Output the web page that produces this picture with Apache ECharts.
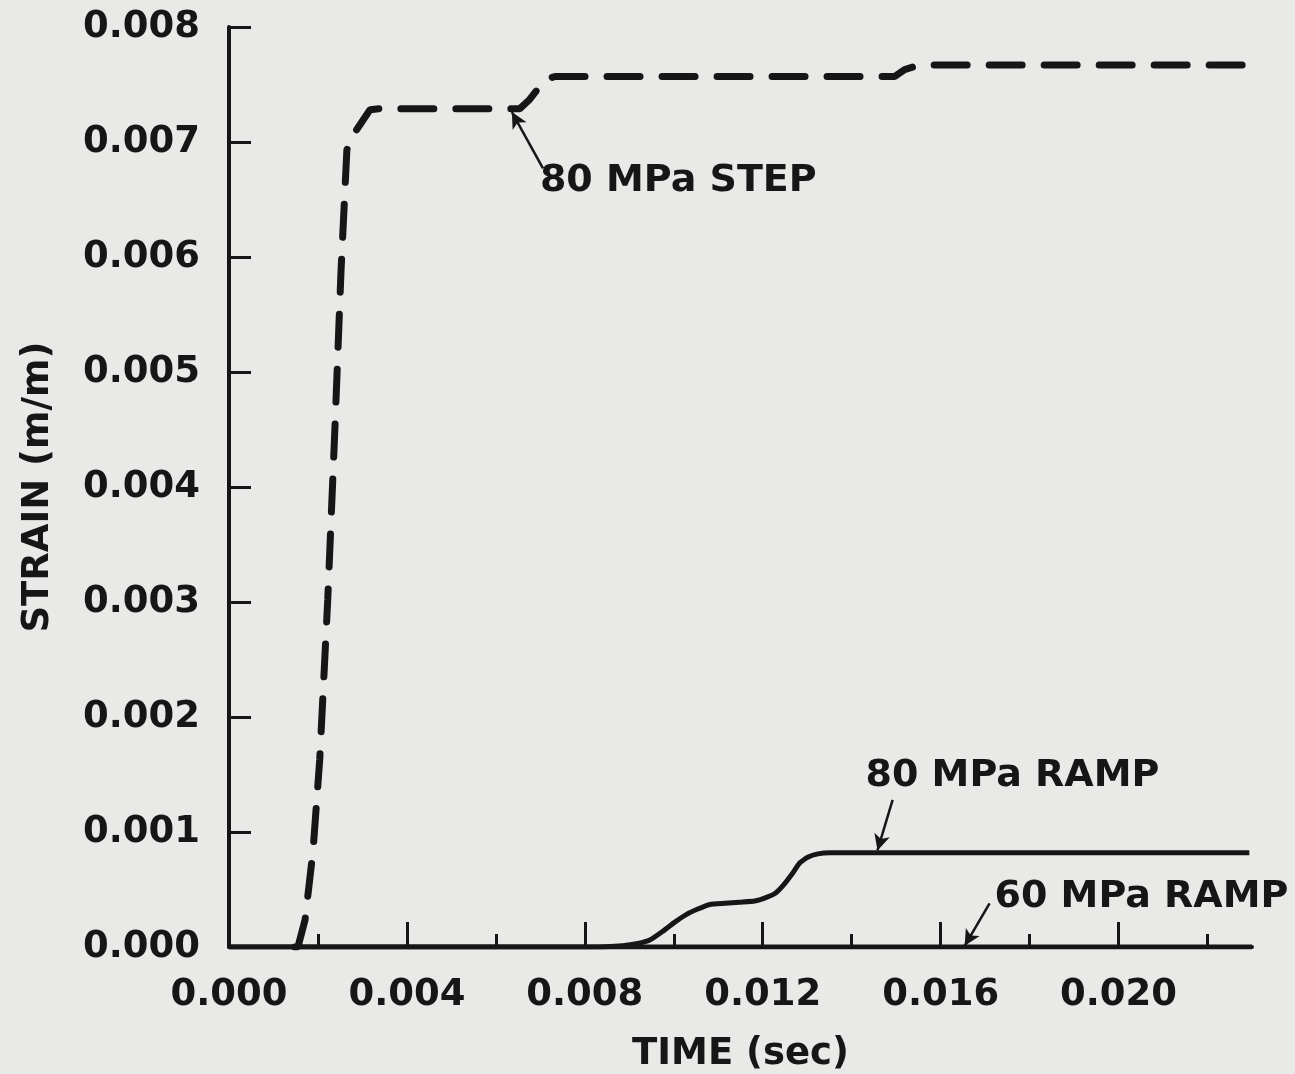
<!DOCTYPE html>
<html>
<head>
<meta charset="utf-8">
<script src="https://cdn.jsdelivr.net/npm/echarts@6/dist/echarts.min.js"></script>
<style>
  html, body { margin: 0; padding: 0; background: #e9e9e7; }
  #chart { width: 1295px; height: 1074px; }
</style>
</head>
<body>
<div id="chart"></div>
<script>
// time (sec) / strain (m/m)
const stepTime = [0.00148, 0.00155, 0.00171, 0.00189, 0.00204, 0.00222, 0.00238, 0.00252, 0.00265, 0.00272, 0.00317, 0.00339, 0.00654, 0.00676, 0.0071, 0.00733, 0.01497, 0.01519, 0.01553, 0.02283]
const stepStrain = [0, 0, 0.000235, 0.00084, 0.00163, 0.00302, 0.0045, 0.00589, 0.00693, 0.00702, 0.00728, 0.00729, 0.00729, 0.00737, 0.00754, 0.00757, 0.00757, 0.00763, 0.00767, 0.00767]

const ramp80Time = [0, 0.00834, 0.00885, 0.00919, 0.00946, 0.00973, 0.01, 0.01027, 0.01054, 0.01081, 0.01115, 0.01148, 0.01182, 0.01207, 0.01229, 0.01247, 0.01265, 0.01283, 0.01301, 0.01324, 0.01351, 0.02294]
const ramp80Strain = [0, 0, 0.00001, 0.00003, 0.00006, 0.00013, 0.00021, 0.00028, 0.00033, 0.00037, 0.00038, 0.00039, 0.0004, 0.00043, 0.00047, 0.00054, 0.00063, 0.00073, 0.00078, 0.00081, 0.00082, 0.00082]

const ramp60Time = [0, 0.023]
const ramp60Strain = [0, 0]

// axis ticks
const xMajorTicks = [0.004, 0.008, 0.012, 0.016, 0.020]
const xMinorTicks = [0.002, 0.006, 0.010, 0.014, 0.018, 0.022]
const xLabels = [0, 0.004, 0.008, 0.012, 0.016, 0.020]

// callouts, in data units
const callouts = [
  { text: '80 MPa STEP', at: [0.00699, 0.00666] },
  { text: '80 MPa RAMP', at: [0.01431, 0.00149] },
  { text: '60 MPa RAMP', at: [0.01721, 0.00043] }
]
const arrows = [
  [[0.00706, 0.00677], [0.00636, 0.00726]],
  [[0.01492, 0.00128], [0.01458, 0.00084]],
  [[0.0171, 0.00038], [0.01654, 0.00001]]
]

const ink = '#161616'
const font = '"DejaVu Sans", sans-serif'
const pairs = (xs, ys) => xs.map((x, i) => [x, ys[i]])

const chart = echarts.init(document.getElementById('chart'))

chart.setOption({
  backgroundColor: '#e9e9e7',
  animation: false,
  grid: { left: 229, right: 43, top: 27, bottom: 127, containLabel: false, outerBoundsMode: 'none' },
  xAxis: [{
    type: 'value',
    min: 0,
    max: 0.023,
    interval: 0.002,
    name: 'TIME (sec)',
    nameLocation: 'middle',
    nameGap: 89,
    nameTextStyle: { color: ink, fontFamily: font, fontWeight: 'bold', fontSize: 37 },
    splitLine: { show: false },
    axisLine: { show: true, lineStyle: { color: ink, width: 4 } },
    axisTick: { show: true, inside: true, length: 13, customValues: xMinorTicks, lineStyle: { color: ink, width: 3 } },
    axisLabel: {
      customValues: xLabels,
      margin: 30,
      color: ink,
      fontFamily: font,
      fontWeight: 'bold',
      fontSize: 37,
      formatter: v => v.toFixed(3)
    }
  }, {
    type: 'value',
    min: 0,
    max: 0.023,
    interval: 0.002,
    position: 'bottom',
    splitLine: { show: false },
    axisLine: { show: false },
    axisLabel: { show: false },
    axisTick: { show: true, inside: true, length: 25, customValues: xMajorTicks, lineStyle: { color: ink, width: 3 } }
  }],
  yAxis: {
    type: 'value',
    min: 0,
    max: 0.008,
    interval: 0.001,
    name: 'STRAIN (m/m)',
    nameLocation: 'middle',
    nameGap: 172,
    nameTextStyle: { color: ink, fontFamily: font, fontWeight: 'bold', fontSize: 37 },
    splitLine: { show: false },
    axisLine: { show: true, lineStyle: { color: ink, width: 4 } },
    axisTick: { show: true, inside: true, length: 22, lineStyle: { color: ink, width: 3 } },
    axisLabel: {
      margin: 29,
      color: ink,
      fontFamily: font,
      fontWeight: 'bold',
      fontSize: 37,
      formatter: v => v.toFixed(3)
    }
  },
  series: [
    {
      name: '80 MPa STEP',
      type: 'line',
      data: pairs(stepTime, stepStrain),
      showSymbol: false,
      lineStyle: { color: ink, width: 7, type: [33, 22], cap: 'round' }
    },
    {
      name: '80 MPa RAMP',
      type: 'line',
      data: pairs(ramp80Time, ramp80Strain),
      showSymbol: false,
      smooth: 0.15,
      lineStyle: { color: ink, width: 5, join: 'round' }
    },
    {
      name: '60 MPa RAMP',
      type: 'line',
      data: pairs(ramp60Time, ramp60Strain),
      showSymbol: false,
      lineStyle: { color: ink, width: 5 },
      markLine: {
        silent: true,
        symbol: ['none', 'arrow'],
        symbolSize: [12, 16],
        label: { show: false },
        lineStyle: { color: ink, width: 2.5, type: 'solid' },
        data: arrows.map(a => [{ coord: a[0] }, { coord: a[1] }])
      }
    }
  ]
})

chart.setOption({
  graphic: callouts.map(c => {
    const p = chart.convertToPixel({ gridIndex: 0 }, c.at)
    return {
      type: 'text',
      x: p[0],
      y: p[1],
      style: {
        text: c.text,
        font: 'bold 38px ' + font,
        fill: ink,
        align: 'left',
        verticalAlign: 'middle'
      }
    }
  })
})
</script>
</body>
</html>
